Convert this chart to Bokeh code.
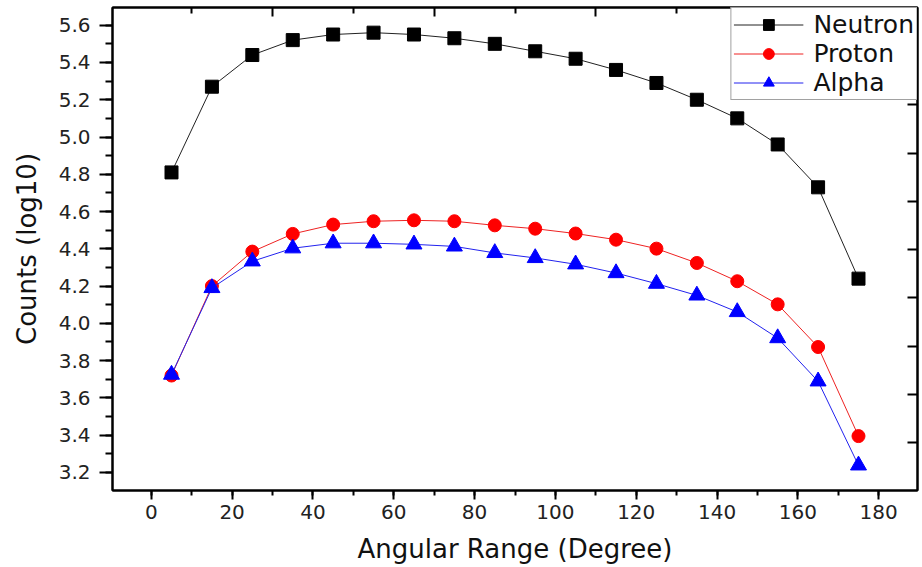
from bokeh.plotting import figure
from bokeh.models import (Range1d, LinearAxis, SingleIntervalTicker, FixedTicker,
                          PrintfTickFormatter, Legend, LegendItem)
from bokeh.embed import file_html
from bokeh.resources import INLINE

# ---- data ----
angles = [5, 15, 25, 35, 45, 55, 65, 75, 85, 95, 105, 115, 125, 135, 145, 155, 165, 175]
neutron = [4.81, 5.27, 5.44, 5.52, 5.55, 5.56, 5.55, 5.53, 5.50, 5.46, 5.42, 5.36, 5.29,
           5.20, 5.10, 4.96, 4.73, 4.24]
proton = [3.72, 4.20, 4.385, 4.48, 4.53, 4.548, 4.553, 4.548, 4.526, 4.508, 4.482, 4.449,
          4.401, 4.324, 4.226, 4.102, 3.873, 3.395]
alpha = [3.725, 4.19, 4.333, 4.403, 4.43, 4.43, 4.424, 4.413, 4.378, 4.351, 4.317, 4.270,
         4.213, 4.150, 4.061, 3.921, 3.689, 3.238]
series_names = ["Neutron", "Proton", "Alpha"]
top_major_ticks = [30, 70, 110, 150]
top_minor_ticks = [10, 50, 90, 130, 170]
right_ticks = [5.439, 5.176, 4.913, 4.655, 4.397, 4.140, 3.877, 3.619, 3.361]

FONT = "DejaVu Sans"

p = figure(width=922, height=567, output_backend="svg", toolbar_location=None,
           x_range=Range1d(-9.6, 189.6), y_range=Range1d(3.103, 5.695),
           min_border_left=112, min_border_right=5, min_border_top=7,
           min_border_bottom=77, background_fill_color="white",
           border_fill_color="white")
p.grid.visible = False
p.outline_line_color = "black"
p.outline_line_width = 2

# bottom axis
xa = p.xaxis[0]
xa.ticker = SingleIntervalTicker(interval=20, num_minor_ticks=2)
xa.axis_label = "Angular Range (Degree)"
# left axis
ya = p.yaxis[0]
ya.ticker = SingleIntervalTicker(interval=0.2, num_minor_ticks=2)
ya.formatter = PrintfTickFormatter(format="%.1f")
ya.axis_label = "Counts (log10)"

for ax in (xa, ya):
    ax.axis_line_width = 2
    ax.axis_line_color = "black"
    ax.major_tick_line_width = 2
    ax.minor_tick_line_width = 2
    ax.major_tick_line_color = "black"
    ax.minor_tick_line_color = "black"
    ax.major_tick_in = 0
    ax.minor_tick_in = 0
    ax.major_label_text_font = FONT
    ax.major_label_text_font_size = "20px"
    ax.major_label_text_color = "#222222"
    ax.axis_label_text_font = FONT
    ax.axis_label_text_font_size = "26px"
    ax.axis_label_text_font_style = "normal"
    ax.axis_label_text_color = "#111111"

xa.major_tick_out = 9
xa.minor_tick_out = 5
xa.major_label_standoff = 5
xa.axis_label_standoff = 12
ya.major_tick_out = 13
ya.minor_tick_out = 7
ya.major_label_standoff = 9
ya.axis_label_standoff = 14

# top axis (ticks only, inward)
top = LinearAxis(ticker=FixedTicker(ticks=top_major_ticks, minor_ticks=top_minor_ticks),
                 major_tick_in=9, major_tick_out=0, minor_tick_in=6, minor_tick_out=0,
                 major_label_text_font_size="1px", major_label_text_color=None,
                 axis_line_width=2, major_tick_line_width=2, minor_tick_line_width=2,
                 major_label_standoff=0)
p.add_layout(top, "above")
# right axis (ticks only, inward)
right = LinearAxis(ticker=FixedTicker(ticks=right_ticks, minor_ticks=[]),
                   major_tick_in=10, major_tick_out=0, minor_tick_in=0, minor_tick_out=0,
                   major_label_text_font_size="1px", major_label_text_color=None,
                   axis_line_width=2, major_tick_line_width=2, major_label_standoff=0)
p.add_layout(right, "right")

# series
rn_l = p.line(angles, neutron, line_color="#222222", line_width=1)
rn_m = p.scatter(angles, neutron, marker="square", size=13, fill_color="black",
                 line_color="black")
rp_l = p.line(angles, proton, line_color="#ee2222", line_width=1)
rp_m = p.scatter(angles, proton, marker="circle", size=13, fill_color="#ff0000",
                 line_color="#ff0000")
ra_l = p.line(angles, alpha, line_color="#2222ee", line_width=1)
ra_m = p.scatter(angles, alpha, marker="triangle", size=16, fill_color="#0000ff",
                 line_color="#0000ff")

legend = Legend(items=[LegendItem(label=series_names[0], renderers=[rn_l, rn_m]),
                       LegendItem(label=series_names[1], renderers=[rp_l, rp_m]),
                       LegendItem(label=series_names[2], renderers=[ra_l, ra_m])],
                location="top_right", margin=0, padding=2, spacing=0,
                glyph_width=70, glyph_height=27, label_height=27, label_standoff=10,
                label_text_font=FONT, label_text_font_size="25px",
                label_text_color="#111111", border_line_color="#444444",
                border_line_width=1, background_fill_color="white",
                background_fill_alpha=1.0)
p.add_layout(legend, "center")

open("out.html", "w").write(file_html(p, INLINE))
